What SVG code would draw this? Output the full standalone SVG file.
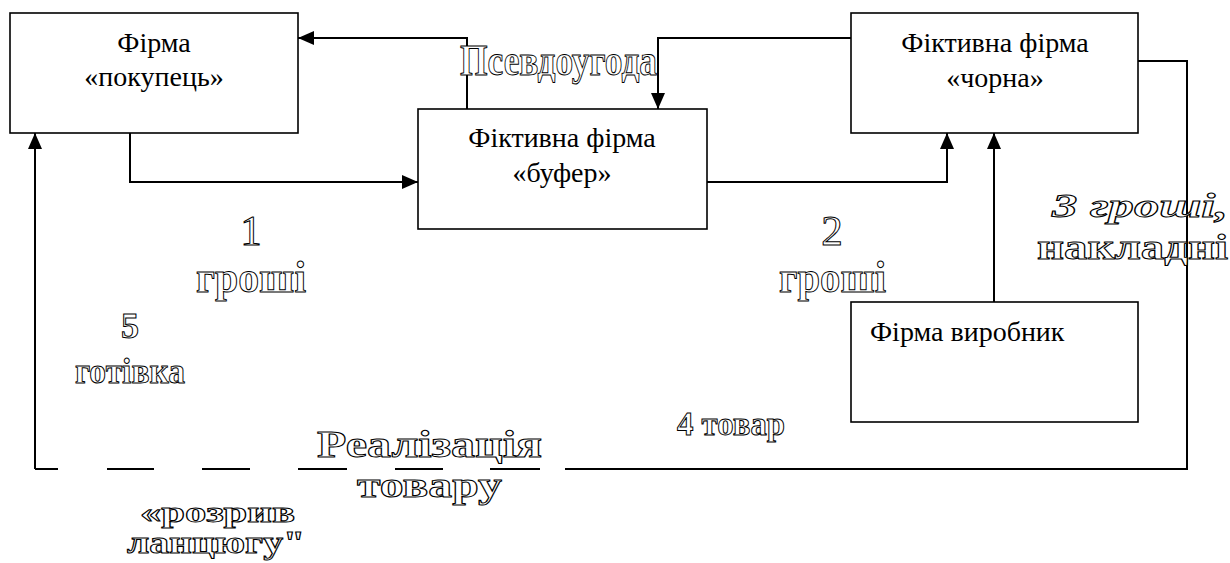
<svg xmlns="http://www.w3.org/2000/svg" width="1230" height="563" viewBox="0 0 1230 563">
<defs>
<marker id="ah" viewBox="0 0 16 14" refX="16" refY="7" markerWidth="16" markerHeight="14" markerUnits="userSpaceOnUse" orient="auto">
<path d="M0,0 L16,7 L0,14 Z" fill="#000"/>
</marker>
</defs>
<rect width="1230" height="563" fill="#fff"/>
<g id="connectors" fill="none" stroke="#000" stroke-width="2">
<path d="M467,109 V38 H298" marker-end="url(#ah)"/>
<path d="M851,38 H658 V109" marker-end="url(#ah)"/>
<path d="M130,133 V182 H418" marker-end="url(#ah)"/>
<path d="M707,182 H947 V133" marker-end="url(#ah)"/>
<path d="M994,302 V133" marker-end="url(#ah)"/>
<path d="M1138,61 H1187 V469 H565"/>
<path d="M35,469 H58 M107,469 H154 M202,469 H250 M298,469 H347 M395,469 H443 M490,469 H540"/>
<path d="M35,469 V133" marker-end="url(#ah)"/>
</g>
<g id="buyer">
<rect x="10" y="13" width="288" height="120" fill="#fff" stroke="#000" stroke-width="1.6"/>
<text x="154" y="52" font-size="28" font-family="Times New Roman" text-anchor="middle">Фірма</text>
<text x="154" y="86" font-size="28" font-family="Times New Roman" text-anchor="middle">«покупець»</text>
</g>
<g id="buffer">
<rect x="418" y="109" width="289" height="120" fill="#fff" stroke="#000" stroke-width="1.6"/>
<text x="562" y="147" font-size="28" font-family="Times New Roman" text-anchor="middle">Фіктивна фірма</text>
<text x="562" y="182" font-size="28" font-family="Times New Roman" text-anchor="middle">«буфер»</text>
</g>
<g id="black">
<rect x="851" y="13" width="287" height="120" fill="#fff" stroke="#000" stroke-width="1.6"/>
<text x="995" y="52" font-size="28" font-family="Times New Roman" text-anchor="middle">Фіктивна фірма</text>
<text x="995" y="87" font-size="28" font-family="Times New Roman" text-anchor="middle">«чорна»</text>
</g>
<g id="producer">
<rect x="851" y="302" width="287" height="120" fill="#fff" stroke="#000" stroke-width="1.6"/>
<text x="870" y="341" font-size="28" font-family="Times New Roman">Фірма виробник</text>
</g>
<g id="labels" fill="#fff" stroke="#000" stroke-width="1">
<text x="460" y="75" font-size="44" font-family="Times New Roman" font-weight="bold" textLength="197" lengthAdjust="spacingAndGlyphs">Псевдоугода</text>
<text x="251" y="245" font-size="43" font-family="Times New Roman" text-anchor="middle">1</text>
<text x="196" y="292" font-size="44" font-family="Times New Roman" font-weight="bold" textLength="110" lengthAdjust="spacingAndGlyphs">гроші</text>
<text x="832" y="245" font-size="43" font-family="Times New Roman" text-anchor="middle">2</text>
<text x="779" y="292" font-size="44" font-family="Times New Roman" font-weight="bold" textLength="107" lengthAdjust="spacingAndGlyphs">гроші</text>
<text x="1052" y="217" font-size="34" font-family="Times New Roman" font-weight="bold" font-style="italic" textLength="176" lengthAdjust="spacingAndGlyphs">3 гроші,</text>
<text x="1037" y="259" font-size="36" font-family="Times New Roman" font-weight="bold" textLength="191" lengthAdjust="spacingAndGlyphs">накладні</text>
<text x="130" y="338" font-size="36" font-family="Times New Roman" font-weight="bold" text-anchor="middle">5</text>
<text x="75" y="383" font-size="36" font-family="Times New Roman" font-weight="bold" textLength="110" lengthAdjust="spacingAndGlyphs">готівка</text>
<text x="677" y="435" font-size="34" font-family="Times New Roman" font-weight="bold" textLength="108" lengthAdjust="spacingAndGlyphs">4 товар</text>
<text x="317" y="457" font-size="37" font-family="Times New Roman" font-weight="bold" textLength="225" lengthAdjust="spacingAndGlyphs">Реалізація</text>
<text x="357" y="497" font-size="36" font-family="Times New Roman" font-weight="bold" textLength="145" lengthAdjust="spacingAndGlyphs">товару</text>
<text x="140" y="522" font-size="30" font-family="Times New Roman" font-weight="bold" textLength="155" lengthAdjust="spacingAndGlyphs">«розрив</text>
<text x="127" y="553" font-size="31" font-family="Times New Roman" font-weight="bold" textLength="178" lengthAdjust="spacingAndGlyphs">ланцюгу"</text>
</g>
</svg>
